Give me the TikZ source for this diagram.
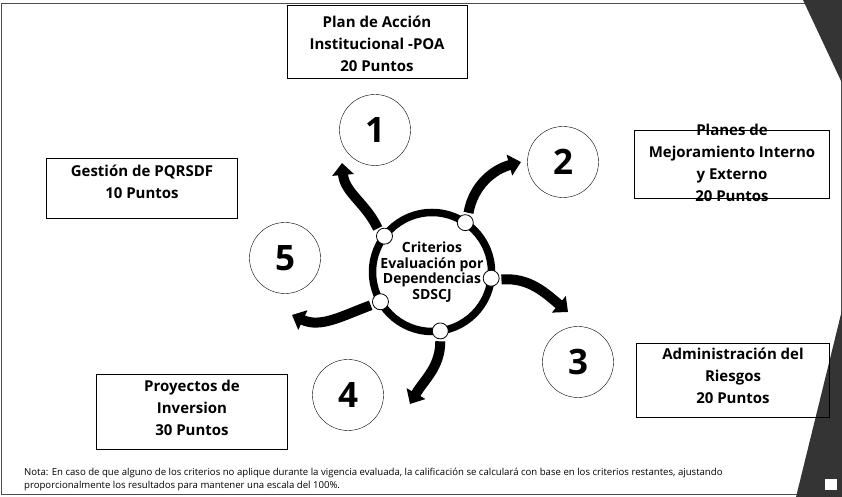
\documentclass[tikz,border=0pt]{standalone}
\usepackage{fontspec}
\setmainfont{Open Sans}
\usetikzlibrary{arrows.meta}
\definecolor{decogray}{RGB}{52,52,52}

\begin{document}
\begin{tikzpicture}[
  x=1pt, y=1pt,
  box/.style={
    draw,
    thin,
    rectangle,
    inner sep=0pt
  },
  box_text/.style={
    align=center,
    inner sep=0pt,
    font=\fontsize{15}{22}\selectfont\bfseries
  },
  num_circle/.style={
    draw,
    circle,
    thin,
    minimum size=71pt,
    inner sep=0pt,
    font=\fontsize{35}{35}\selectfont\bfseries
  },
  ring/.style={
    draw,
    circle,
    line width=7.5pt,
    minimum size=119pt,
    inner sep=0pt,
    outer sep=0pt,
    align=center,
    font=\fontsize{14}{15.5}\selectfont\bfseries
  },
  ring_dot/.style={
    draw,
    circle,
    thick,
    fill=white,
    minimum size=16pt,
    inner sep=0pt
  },
  flow_arrow/.style={
    line width=10pt,
    shorten <=2pt,
    -{Triangle[width=21pt,length=12pt]}
  }
]%
\useasboundingbox (0,0) rectangle (842,497);
\draw[black!70] (1,3) rectangle (841,494);
\fill[decogray] (803,497) -- (842,497) -- (842,414) -- cycle;
\fill[decogray] (796,0) -- (842,0) -- (842,187) -- cycle;
\draw[decogray, fill=white] (824,7) rectangle (837,19);

\node[ring] (ring) at (432,225) {Criterios\\Evaluación por\\Dependencias\\SDSCJ};
\foreach \a in {56,143,-6,-150,-82}
  \node[ring_dot] (dot\a) at (ring.\a) {};

\node[num_circle] (c1) at (375,367) {1};
\node[num_circle] (c2) at (563,335) {2};
\node[num_circle] (c3) at (578,135) {3};
\node[num_circle] (c4) at (348,102) {4};
\node[num_circle] (c5) at (285,239) {5};

\coordinate (tip1) at (342,334);
\coordinate (tip2) at (521,335);
\coordinate (tip3) at (568,185);
\coordinate (tip4) at (410,93);
\coordinate (tip5) at (292,182);
\draw[flow_arrow] (dot143.135) to[out=115, in=-85] (tip1);
\draw[flow_arrow] (dot56.70) to[out=80, in=195] (tip2);
\draw[flow_arrow] (dot-6.-10) to[out=5, in=140] (tip3);
\draw[flow_arrow] (dot-82.-90) to[out=-90, in=60] (tip4);
\draw[flow_arrow] (dot-150.-160) to[out=200, in=-25] (tip5);

\node[box, minimum width=180pt, minimum height=73pt] (poa) at (377,455) {};
\node[box_text] (poa_text) at (377,453) {Plan de Acción\\Institucional -POA\\20 Puntos};
\node[box, minimum width=195pt, minimum height=68pt] (planes) at (732,333) {};
\node[box_text] (planes_text) at (732,334) {Planes de\\Mejoramiento Interno\\y Externo\\20 Puntos};
\node[box, minimum width=191pt, minimum height=60pt] (pqrsdf) at (142,309) {};
\node[box_text] (pqrsdf_text) at (142,315) {Gestión de PQRSDF\\10 Puntos};
\node[box, minimum width=193pt, minimum height=74pt] (riesgos) at (733,117) {};
\node[box_text] (riesgos_text) at (733,121) {Administración del\\Riesgos\\20 Puntos};
\node[box, minimum width=191pt, minimum height=75pt] (inversion) at (192,85) {};
\node[box_text] (inversion_text) at (192,89) {Proyectos de\\Inversion\\30 Puntos};

\node[anchor=north west, align=left, inner sep=0pt, font=\fontsize{9.6}{13}\selectfont] (nota) at (24,29)
  {Nota: En caso de que alguno de los criterios no aplique durante la vigencia evaluada, la calificación se calculará con base en los criterios restantes, ajustando\\proporcionalmente los resultados para mantener una escala del 100\%.};
\end{tikzpicture}
\end{document}
